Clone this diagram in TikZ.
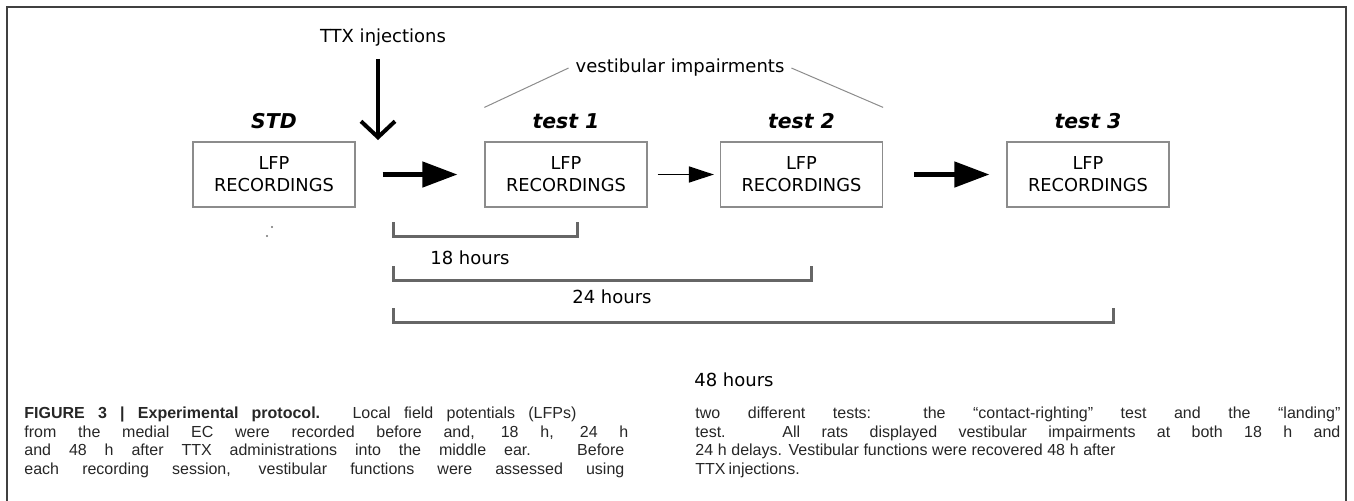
\documentclass[tikz,border=0pt]{standalone}
\usepackage{fontspec}
\setmainfont{Liberation Sans}
\newfontfamily\dejavu{DejaVu Sans}
\usetikzlibrary{arrows.meta}
\usetikzlibrary{positioning}
\usetikzlibrary{calc}

\tikzset{
    recbox/.style={draw=black!45, line width=0.6pt, minimum width=81pt, minimum height=32.5pt,
        inner sep=0pt, align=center, font=\dejavu\fontsize{8.9}{11}\selectfont},
    sesslabel/.style={inner sep=0pt, font=\dejavu\fontsize{10.2}{12}\selectfont\bfseries\itshape},
    diagtext/.style={font=\dejavu\fontsize{9}{11}\selectfont},
    bigarrow/.style={line width=2.3pt, -{Triangle[length=17.5pt, width=12.5pt]}},
    smallarrow/.style={line width=0.8pt, -{Triangle[length=12.5pt, width=8pt]}},
    injarrow/.style={line width=2pt, -{Straight Barb[length=8pt, width=17pt]}},
    bracket/.style={draw=black!60, line width=1.5pt},
    capline/.style={anchor=base west, inner sep=0pt, text=black!85, font=\fontsize{8}{9.5}\selectfont},
}

\begin{document}
\begin{tikzpicture}[x=0.5pt, y=-0.5pt]
    \useasboundingbox (0,0) rectangle (1354,500);
    % frame
    \draw[black!75, line width=0.7pt] (7,510) -- (7,7) -- (1346,7) -- (1346,510);

    % recording sessions
    \foreach \n/\x/\lab in {0/274/STD, 1/566/test 1, 2/801.5/test 2, 3/1088/test 3} {
        \node[recbox] (rec\n) at (\x,174.5) {LFP\\RECORDINGS};
        \node[sesslabel, above=6pt of rec\n] (lab\n) {\lab};
    }

    % injections
    \node[diagtext] (ttx) at (383,38) {TTX injections};
    \coordinate (inj) at (378,140);
    \draw[injarrow, shorten <=2.5pt] (ttx.south -| inj) -- (inj);

    \node[diagtext] (vest) at (680,68) {vestibular impairments};
    \draw[black!45, line width=0.5pt] ([yshift=17pt]rec1.north west) -- (vest.west);
    \draw[black!45, line width=0.5pt] (vest.east) -- ([yshift=17pt]rec2.north east);

    \draw[bigarrow] ([xshift=13.5pt]rec0.east) -- ([xshift=-13.5pt]rec1.west);
    \draw[smallarrow] ([xshift=5pt]rec1.east) -- ([xshift=-3pt]rec2.west);
    \draw[bigarrow] ([xshift=15.5pt]rec2.east) -- ([xshift=-8.5pt]rec3.west);

    \fill[black!55] (272,227) circle (0.6pt) (267,236) circle (0.6pt);

    % delays
    \foreach \r/\t/\h/\lx/\ly in {577/222/18/470/258, 811/266/24/612/297, 1113/308/48/734/380} {
        \draw[bracket] (393,\t) -- (393,\t+14) -- (\r,\t+14) -- (\r,\t);
        \node[diagtext] (hrs\h) at (\lx,\ly) {\h\ hours};
    }

    % caption
    \foreach \i/\x/\y/\w/\txt in {
        1/24/418.5/276/{\textbf{FIGURE 3 | Experimental protocol.} Local field potentials (LFPs)},
        2/24/437/302/{from the medial EC were recorded before and, 18 h, 24 h},
        3/24/455.5/300/{and 48 h after TTX administrations into the middle ear. Before},
        4/24/474/300/{each recording session, vestibular functions were assessed using},
        5/695/418.5/322.5/{two different tests: the ``contact-righting'' test and the ``landing''},
        6/695/437/322.5/{test. All rats displayed vestibular impairments at both 18 h and},
        7/695/455.5/210/{24 h delays. Vestibular functions were recovered 48 h after},
        8/695/474/52/{TTX injections.}%
    } \node[capline] (cap\i) at (\x,\y) {\makebox[\w pt][s]{\txt}};
\end{tikzpicture}
\end{document}
